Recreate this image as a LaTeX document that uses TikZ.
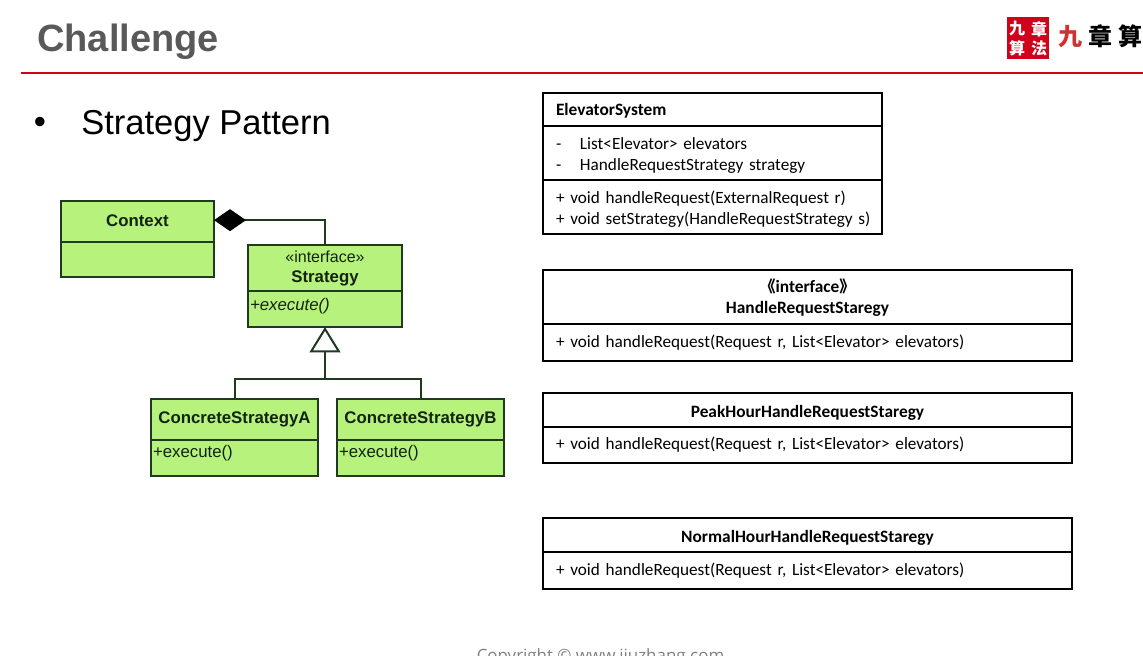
\documentclass[tikz,border=0pt]{standalone}
\usepackage{fontspec}
\setmainfont[WordSpace=0.45]{Carlito}
\newfontfamily\arialfont{Liberation Sans}
\newfontfamily\copyfont{Open Sans}
\newfontfamily\cjk{Noto Sans CJK SC}
\usetikzlibrary{positioning,arrows.meta,shapes.geometric}
\definecolor{slidegray}{HTML}{595959}
\definecolor{slidered}{HTML}{D0021B}
\definecolor{umlgreen}{HTML}{B7F27C}
\definecolor{umlline}{HTML}{1F3A1F}
\def\px{0.75pt}
\tikzset{
  class cell/.style={rectangle, draw=black, fill=white, line width=1.4pt, outer sep=0pt, inner xsep=9.75pt, inner ysep=0pt,
    minimum width=#1*\px, text width=#1*\px-19.5pt, align=left, font=\fontsize{12.9}{15.75}\selectfont},
  class title/.style={font=\fontsize{13}{15.75}\selectfont\bfseries, align=center},
  green cell/.style={rectangle, draw=umlline, fill=umlgreen, line width=1.5pt, outer sep=0pt, inner xsep=1.5pt, inner ysep=0pt,
    minimum width=#1*\px, text width=#1*\px-3pt, align=left, text=umlline!60!black, font=\arialfont\fontsize{12.6}{15}\selectfont},
  green title/.style={font=\arialfont\fontsize{12.6}{15}\selectfont\bfseries, align=center},
  seal char/.style={text=white, font=\cjk\fontsize{12}{12}\selectfont\bfseries, inner sep=0pt},
  logo char/.style={font=\cjk\fontsize{18}{18}\selectfont\bfseries, inner sep=0pt}
}
\newcommand{\privrow}[1]{\makebox[18pt][l]{-}#1}
\begin{document}
\begin{tikzpicture}[x=0.75pt, y=-0.75pt, node distance=0pt]
    \useasboundingbox (0,0) rectangle (1143,656);

    % Slide header
    \node [anchor=west, inner sep=0pt, text=slidegray, font=\arialfont\fontsize{28.5}{30}\selectfont\bfseries] (Title) at (37,42) {Challenge};
    \coordinate (RuleL) at (21,73);
    \coordinate (RuleR) at (1143,73);
    \draw [slidered, line width=2.2pt] (RuleL) -- (RuleR);

    % Logo
    \node [rectangle, fill=slidered, minimum size=42*\px, inner sep=0pt] (Seal) at (1028,38) {};
    \node [seal char] (SealA) at (1017,29) {九};
    \node [seal char] (SealB) at (1039,29) {章};
    \node [seal char] (SealC) at (1017,48) {算};
    \node [seal char] (SealD) at (1039,48) {法};
    \node [logo char, text=red!60!gray] (LogoA) at (1070,37) {九};
    \node [logo char] (LogoB) at (1100,36) {章};
    \node [logo char] (LogoC) at (1130,36) {算};

    % Bullet
    \node [inner sep=0pt, font=\arialfont\fontsize{26}{30}\selectfont] (Bullet) at (40,125) {•};
    \node [anchor=west, inner sep=0pt, font=\arialfont\fontsize{25.9}{30}\selectfont] (Pattern) at (81,126) {Strategy Pattern};

    % Strategy pattern classes
    \node [green cell=153, green title, minimum height=41*\px, text depth=2pt, anchor=north west] (ctxHead) at (61,201) {Context};
    \node [green cell=153, minimum height=35*\px, below=of ctxHead] (ctxBody) {};

    \node [green cell=154, green title, minimum height=46*\px, anchor=north west] (stratHead) at (248,245)
        {{\mdseries\fontsize{12}{14}\selectfont «interface»}\\Strategy};
    \node [green cell=154, minimum height=36*\px, below=of stratHead, text depth=7.5pt] (stratBody) {\itshape +execute()};

    \node [green cell=167, green title, minimum height=41*\px, anchor=north west] (concAHead) at (151,399) {ConcreteStrategyA};
    \node [green cell=167, minimum height=36*\px, below=of concAHead, text depth=10.5pt] (concABody) {+execute()};

    \node [green cell=167, green title, minimum height=41*\px, anchor=north west] (concBHead) at (337,399) {ConcreteStrategyB};
    \node [green cell=167, minimum height=36*\px, below=of concBHead, text depth=10.5pt] (concBBody) {+execute()};

    % Connections
    \draw [umlline, line width=1.5pt, {Diamond[black, length=24pt, width=16.5pt]}-] ([yshift=1pt]ctxHead.east) -| (stratHead.north);
    \path (stratBody.south) ++(0,52) coordinate (genJoin);
    \draw [umlline, line width=1.5pt] (concAHead.north) |- (genJoin) -| (concBHead.north);
    \draw [umlline, line width=1.5pt, -{Triangle[open, fill=white, length=19pt, width=23pt]}] (genJoin) -- (stratBody.south);

    % Elevator classes
    \node [class cell=339, minimum height=33*\px, anchor=north west, text height=11.5pt, font=\fontsize{13}{15.75}\selectfont\bfseries] (sysHead) at (543,93) {ElevatorSystem};
    \node [class cell=339, minimum height=54*\px, below=of sysHead, text height=13pt] (sysAttr)
        {\privrow{List<Elevator> elevators}\\\privrow{HandleRequestStrategy strategy}};
    \node [class cell=339, minimum height=54*\px, below=of sysAttr, text height=13pt] (sysOps)
        {+ void handleRequest(ExternalRequest r)\\\mbox{+ void setStrategy(HandleRequestStrategy s)}};

    \node [class cell=529, class title, minimum height=54*\px, text height=10.5pt, anchor=north west] (ifaceHead) at (543,270)
        {{\cjk\fontsize{12}{15.75}\selectfont 《}interface{\cjk\fontsize{12}{15.75}\selectfont 》}\\HandleRequestStaregy};
    \node [class cell=529, minimum height=37*\px, below=of ifaceHead] (ifaceOps)
        {+ void handleRequest(Request r, List<Elevator> elevators)};

    \node [class cell=529, class title, minimum height=34*\px, text height=13pt, anchor=north west] (peakHead) at (543,393) {PeakHourHandleRequestStaregy};
    \node [class cell=529, minimum height=36*\px, below=of peakHead] (peakOps)
        {+ void handleRequest(Request r, List<Elevator> elevators)};

    \node [class cell=529, class title, minimum height=34*\px, text height=13pt, anchor=north west] (normHead) at (543,518) {NormalHourHandleRequestStaregy};
    \node [class cell=529, minimum height=37*\px, below=of normHead] (normOps)
        {+ void handleRequest(Request r, List<Elevator> elevators)};

    % Footer
    \node [anchor=base, inner sep=0pt, text=gray, font=\copyfont\fontsize{12.7}{14}\selectfont] (Copy) at (600.5,661) {Copyright © www.jiuzhang.com};
\end{tikzpicture}
\end{document}
